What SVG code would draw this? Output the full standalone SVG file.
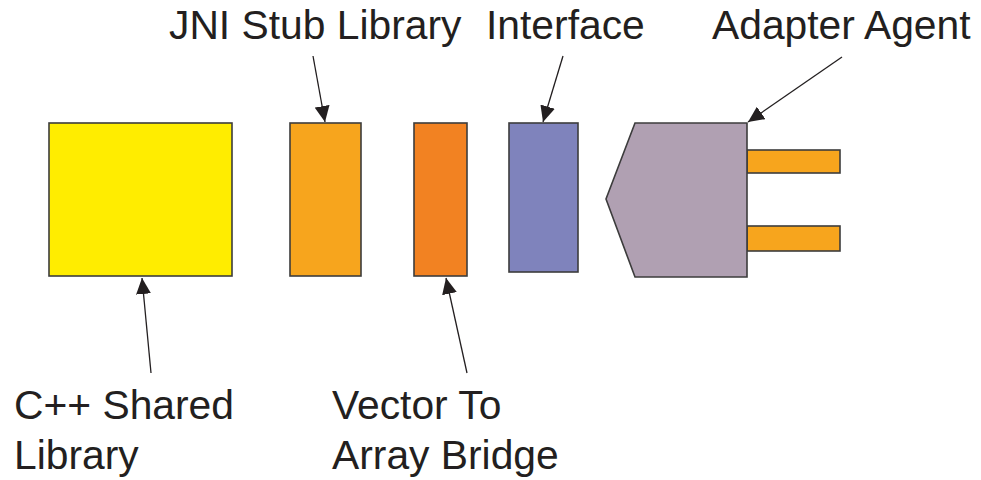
<svg xmlns="http://www.w3.org/2000/svg" width="981" height="480" viewBox="0 0 981 480">
<defs>
<style>
.box{stroke:#3c3c3c;stroke-width:1.6}
.lbl{font-family:"Liberation Sans",Arial,sans-serif;font-size:40.8px;fill:#231f20}
.conn{stroke:#231f20;stroke-width:1.3;fill:none;marker-end:url(#ah)}
</style>
<marker id="ah" markerUnits="userSpaceOnUse" markerWidth="16" markerHeight="15" viewBox="0 0 16 15" refX="16" refY="7.5" orient="auto">
<path d="M0,0 L16,7.5 L0,15 z" fill="#231f20"/>
</marker>
</defs>
<rect width="981" height="480" fill="#ffffff"/>
<g id="cpp-shared-library">
<rect class="box" x="49" y="123" width="183" height="153" fill="#ffed00"/>
<text class="lbl" x="14" y="419">C++ Shared</text>
<text class="lbl" x="14" y="469">Library</text>
</g>
<g id="jni-stub-library">
<rect class="box" x="290" y="123" width="71" height="153" fill="#f7a51d"/>
<text class="lbl" x="169" y="39">JNI Stub Library</text>
</g>
<g id="vector-to-array-bridge">
<rect class="box" x="414" y="123" width="53" height="153" fill="#f28222"/>
<text class="lbl" x="332" y="419">Vector To</text>
<text class="lbl" x="332" y="469">Array Bridge</text>
</g>
<g id="interface">
<rect class="box" x="509" y="123" width="69" height="149" fill="#7f83bc"/>
<text class="lbl" x="486" y="39">Interface</text>
</g>
<g id="adapter-agent">
<rect class="box" x="747" y="150" width="93" height="23" fill="#f7a51d"/>
<rect class="box" x="747" y="226" width="93" height="25" fill="#f7a51d"/>
<polygon class="box" points="635,123 747,123 747,277 635,277 606,199" fill="#b0a0b2"/>
<text class="lbl" x="712" y="39">Adapter Agent</text>
</g>
<g id="connectors">
<line class="conn" x1="313" y1="56" x2="325" y2="122"/>
<line class="conn" x1="563" y1="56" x2="543" y2="122"/>
<line class="conn" x1="842" y1="57" x2="748" y2="122"/>
<line class="conn" x1="151" y1="373" x2="142" y2="278"/>
<line class="conn" x1="467" y1="373" x2="446" y2="278"/>
</g>
</svg>
